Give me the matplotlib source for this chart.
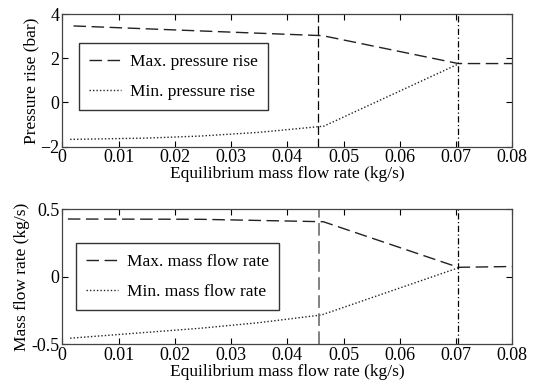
import matplotlib.pyplot as plt

plt.rcParams['font.family'] = ['Liberation Serif', 'DejaVu Serif']
plt.rcParams['font.size'] = 12.5

# equilibrium mass flow rate (kg/s)
x_top = [0.002, 0.015, 0.03, 0.0463, 0.0704, 0.08]
p_max = [3.46, 3.33, 3.18, 3.02, 1.76, 1.76]
x_top_min = [0.0014, 0.015, 0.0244, 0.035, 0.0465, 0.0704]
p_min = [-1.67, -1.61, -1.52, -1.35, -1.07, 1.74]

x_bot = [0.001, 0.0244, 0.0464, 0.0704, 0.08]
m_max = [0.426, 0.424, 0.406, 0.069, 0.075]
x_bot_min = [0.0014, 0.0244, 0.035, 0.0461, 0.0704]
m_min = [-0.455, -0.382, -0.34, -0.283, 0.065]

v_dash_top = 0.0454
v_dash_bot = 0.0457
v_dashdot = 0.0704

xticks = [0, 0.01, 0.02, 0.03, 0.04, 0.05, 0.06, 0.07, 0.08]
xticklabels = ['0', '0.01', '0.02', '0.03', '0.04', '0.05', '0.06', '0.07', '0.08']

fig = plt.figure(figsize=(5.36, 3.9), dpi=100)
ax1 = fig.add_axes([0.1162, 0.6238, 0.8396, 0.3403])
ax2 = fig.add_axes([0.1162, 0.1172, 0.8396, 0.3469])

dash_style = dict(color='#222222', lw=1.0, dashes=(9, 4))
dot_style = dict(color='#222222', lw=1.0, dashes=(1, 1.5))

# 上图：压升
ax1.plot(x_top, p_max, label='Max. pressure rise', **dash_style)
ax1.plot(x_top_min, p_min, label='Min. pressure rise', **dot_style)
ax1.axvline(v_dash_top, color='black', lw=0.9, dashes=(7, 3))
ax1.axvline(v_dashdot, color='black', lw=0.9, dashes=(5, 2, 1, 2))
ax1.set_ylim(-2, 4)
ax1.set_yticks([-2, 0, 2, 4])
ax1.set_ylabel('Pressure rise (bar)', labelpad=1)

# 下图：质量流量
ax2.plot(x_bot, m_max, label='Max. mass flow rate', **dash_style)
ax2.plot(x_bot_min, m_min, label='Min. mass flow rate', **dot_style)
ax2.axvline(v_dash_bot, color='#777777', lw=1.3, dashes=(7, 3))
ax2.axvline(v_dashdot, color='black', lw=0.9, dashes=(5, 2, 1, 2))
ax2.set_ylim(-0.5, 0.5)
ax2.set_yticks([-0.5, 0, 0.5])
ax2.set_yticklabels(['-0.5', '0', '0.5'])
ax2.set_ylabel('Mass flow rate (kg/s)', labelpad=1)

for ax in (ax1, ax2):
    ax.set_xlim(0, 0.08)
    ax.set_xticks(xticks)
    ax.set_xticklabels(xticklabels)
    ax.set_xlabel('Equilibrium mass flow rate (kg/s)', labelpad=0)
    ax.tick_params(direction='in', top=True, right=True, length=4, width=0.8,
                   pad=2, labelsize=13)
    for s in ax.spines.values():
        s.set_linewidth(0.9)
        s.set_color('#444444')

ax1.legend(loc='upper left', bbox_to_anchor=(0.037, 0.779), fancybox=False,
           edgecolor='#333333', framealpha=1, borderaxespad=0, handlelength=1.85,
           labelspacing=0.8, borderpad=0.6, handletextpad=0.5)
ax2.legend(loc='upper left', bbox_to_anchor=(0.03, 0.7465), fancybox=False,
           edgecolor='#333333', framealpha=1, borderaxespad=0, handlelength=1.85,
           labelspacing=0.8, borderpad=0.6, handletextpad=0.5)

fig.savefig('out.png', dpi=100)
